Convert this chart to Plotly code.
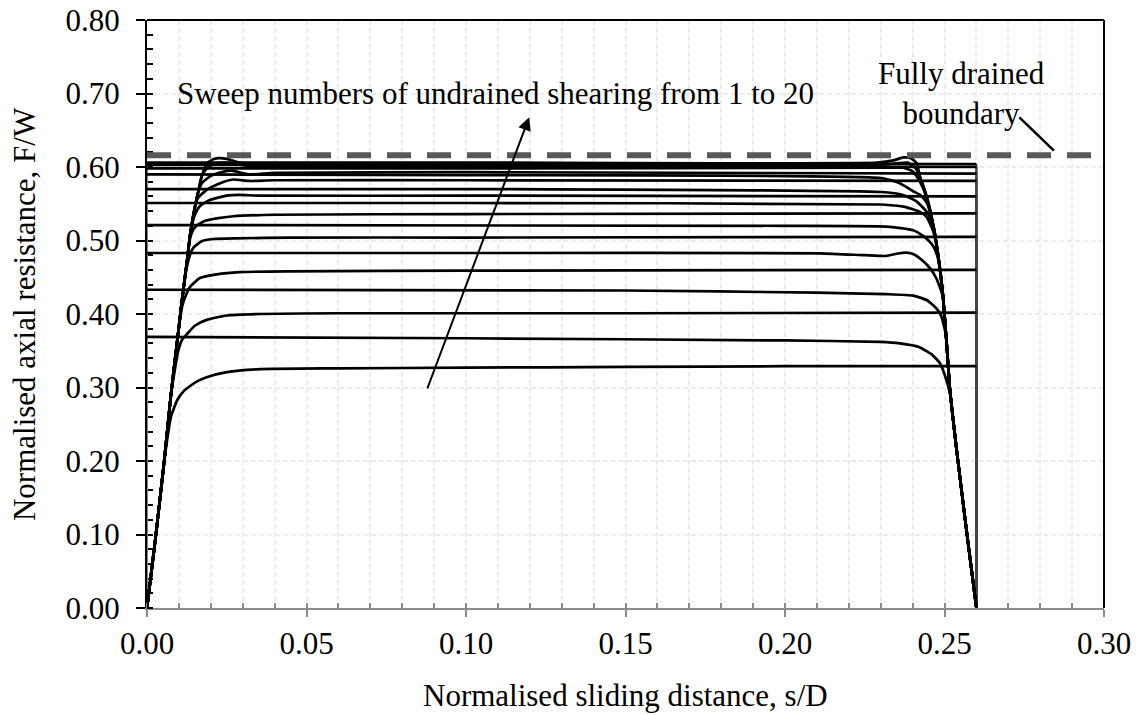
import plotly.graph_objects as go

# ---------------- data ----------------
# Forward sweeps (odd sweep numbers): start at s/D = 0
s01_x = [0, 0.0028, 0.0054, 0.0075, 0.0095, 0.0115, 0.0135, 0.0160, 0.0187, 0.0250, 0.0354, 0.0600, 0.1000, 0.1500, 0.2000, 0.2600]
s01_y = [0, 0.100, 0.200, 0.260, 0.283, 0.295, 0.302, 0.309, 0.314, 0.321, 0.325, 0.326, 0.327, 0.328, 0.329, 0.329]
s03_x = [0, 0.0028, 0.0054, 0.0075, 0.0098, 0.0110, 0.0124, 0.0150, 0.0187, 0.0250, 0.0354, 0.0600, 0.1500, 0.2600]
s03_y = [0, 0.100, 0.200, 0.290, 0.350, 0.365, 0.372, 0.384, 0.392, 0.398, 0.400, 0.401, 0.401, 0.402]
s05_x = [0, 0.0028, 0.0054, 0.0075, 0.0098, 0.0110, 0.0124, 0.0135, 0.0166, 0.0218, 0.0290, 0.0450, 0.1000, 0.2600]
s05_y = [0, 0.100, 0.200, 0.290, 0.375, 0.410, 0.428, 0.437, 0.449, 0.454, 0.457, 0.458, 0.459, 0.460]
s07_x = [0, 0.0028, 0.0054, 0.0075, 0.0098, 0.0110, 0.0124, 0.0136, 0.0145, 0.0171, 0.0208, 0.0280, 0.0450, 0.1000, 0.2600]
s07_y = [0, 0.100, 0.200, 0.290, 0.375, 0.420, 0.462, 0.482, 0.490, 0.499, 0.502, 0.503, 0.504, 0.504, 0.505]
s09_x = [0, 0.0028, 0.0054, 0.0075, 0.0098, 0.0110, 0.0124, 0.0136, 0.0150, 0.0177, 0.0218, 0.0270, 0.0400, 0.1000, 0.2600]
s09_y = [0, 0.100, 0.200, 0.290, 0.375, 0.420, 0.467, 0.505, 0.518, 0.526, 0.530, 0.533, 0.535, 0.536, 0.537]
s11_x = [0, 0.0028, 0.0054, 0.0075, 0.0098, 0.0110, 0.0124, 0.0136, 0.0150, 0.0166, 0.0197, 0.0250, 0.0290, 0.0350, 0.1000, 0.2600]
s11_y = [0, 0.100, 0.200, 0.290, 0.375, 0.420, 0.467, 0.510, 0.535, 0.547, 0.555, 0.561, 0.562, 0.561, 0.561, 0.560]
s13_x = [0, 0.0028, 0.0054, 0.0075, 0.0098, 0.0110, 0.0124, 0.0136, 0.0150, 0.0160, 0.0187, 0.0229, 0.0270, 0.0320, 0.0400, 0.1000, 0.2600]
s13_y = [0, 0.100, 0.200, 0.290, 0.375, 0.420, 0.467, 0.510, 0.545, 0.558, 0.569, 0.578, 0.583, 0.581, 0.582, 0.582, 0.581]
s15_x = [0, 0.0028, 0.0054, 0.0075, 0.0098, 0.0110, 0.0124, 0.0136, 0.0150, 0.0160, 0.0172, 0.0200, 0.0235, 0.0265, 0.0320, 0.0400, 0.1000, 0.2600]
s15_y = [0, 0.100, 0.200, 0.290, 0.375, 0.420, 0.467, 0.510, 0.545, 0.565, 0.578, 0.588, 0.593, 0.595, 0.590, 0.592, 0.593, 0.591]
s17_x = [0, 0.0028, 0.0054, 0.0075, 0.0098, 0.0110, 0.0124, 0.0136, 0.0150, 0.0160, 0.0172, 0.0187, 0.0210, 0.0240, 0.0275, 0.0330, 0.1000, 0.2600]
s17_y = [0, 0.100, 0.200, 0.290, 0.375, 0.420, 0.467, 0.510, 0.545, 0.565, 0.588, 0.598, 0.604, 0.606, 0.604, 0.601, 0.601, 0.600]
s19_x = [0, 0.0028, 0.0054, 0.0075, 0.0098, 0.0110, 0.0124, 0.0136, 0.0150, 0.0160, 0.0172, 0.0187, 0.0205, 0.0224, 0.0250, 0.0290, 0.0350, 0.1000, 0.2600]
s19_y = [0, 0.100, 0.200, 0.290, 0.375, 0.420, 0.467, 0.510, 0.545, 0.565, 0.588, 0.604, 0.610, 0.612, 0.611, 0.606, 0.604, 0.605, 0.604]

# Reverse sweeps (even sweep numbers): start at s/D = 0.26
s02_x = [0.2600, 0.2570, 0.2538, 0.2518, 0.2500, 0.2486, 0.2460, 0.2420, 0.2360, 0.2298, 0.2000, 0.1000, 0]
s02_y = [0, 0.102, 0.215, 0.290, 0.318, 0.333, 0.345, 0.355, 0.360, 0.362, 0.364, 0.367, 0.369]
s04_x = [0.2600, 0.2570, 0.2538, 0.2517, 0.2505, 0.2490, 0.2476, 0.2444, 0.2402, 0.2318, 0.2100, 0.1500, 0]
s04_y = [0, 0.102, 0.215, 0.297, 0.370, 0.397, 0.407, 0.419, 0.425, 0.427, 0.429, 0.432, 0.433]
s06_x = [0.2600, 0.2570, 0.2538, 0.2517, 0.2505, 0.2494, 0.2475, 0.2455, 0.2430, 0.2405, 0.2381, 0.2350, 0.2318, 0.2250, 0.2110, 0.1000, 0]
s06_y = [0, 0.102, 0.215, 0.297, 0.370, 0.425, 0.448, 0.462, 0.473, 0.481, 0.4835, 0.482, 0.479, 0.480, 0.4826, 0.483, 0.483]
s08_x = [0.2600, 0.2570, 0.2538, 0.2517, 0.2505, 0.2494, 0.2480, 0.2465, 0.2450, 0.2434, 0.2402, 0.2318, 0.2000, 0]
s08_y = [0, 0.102, 0.215, 0.297, 0.370, 0.430, 0.475, 0.492, 0.500, 0.506, 0.514, 0.519, 0.520, 0.521]
s10_x = [0.2600, 0.2570, 0.2538, 0.2517, 0.2505, 0.2494, 0.2480, 0.2465, 0.2444, 0.2423, 0.2371, 0.2300, 0.1000, 0]
s10_y = [0, 0.102, 0.215, 0.297, 0.370, 0.430, 0.480, 0.512, 0.532, 0.539, 0.546, 0.549, 0.551, 0.551]
s12_x = [0.2600, 0.2570, 0.2538, 0.2517, 0.2505, 0.2494, 0.2480, 0.2465, 0.2444, 0.2413, 0.2370, 0.2300, 0.1000, 0]
s12_y = [0, 0.102, 0.215, 0.297, 0.370, 0.430, 0.480, 0.520, 0.539, 0.553, 0.562, 0.566, 0.570, 0.570]
s14_x = [0.2600, 0.2570, 0.2538, 0.2517, 0.2505, 0.2494, 0.2480, 0.2465, 0.2444, 0.2423, 0.2402, 0.2360, 0.2300, 0.1000, 0]
s14_y = [0, 0.102, 0.215, 0.297, 0.370, 0.430, 0.480, 0.520, 0.552, 0.562, 0.567, 0.578, 0.585, 0.589, 0.590]
s16_x = [0.2600, 0.2570, 0.2538, 0.2517, 0.2505, 0.2494, 0.2480, 0.2465, 0.2444, 0.2423, 0.2400, 0.2370, 0.2320, 0.1000, 0]
s16_y = [0, 0.102, 0.215, 0.297, 0.370, 0.430, 0.480, 0.520, 0.558, 0.580, 0.594, 0.599, 0.599, 0.598, 0.598]
s18_x = [0.2600, 0.2570, 0.2538, 0.2517, 0.2505, 0.2494, 0.2480, 0.2465, 0.2444, 0.2423, 0.2410, 0.2385, 0.2350, 0.2300, 0.1000, 0]
s18_y = [0, 0.102, 0.215, 0.297, 0.370, 0.430, 0.480, 0.520, 0.560, 0.586, 0.598, 0.606, 0.605, 0.603, 0.603, 0.603]
s20_x = [0.2600, 0.2570, 0.2538, 0.2517, 0.2505, 0.2494, 0.2480, 0.2465, 0.2444, 0.2423, 0.2413, 0.2395, 0.2371, 0.2340, 0.2290, 0.1000, 0]
s20_y = [0, 0.102, 0.215, 0.297, 0.370, 0.430, 0.480, 0.520, 0.560, 0.587, 0.605, 0.612, 0.613, 0.609, 0.606, 0.606, 0.606]

drained_level = 0.616
drained_x = [0.0, 0.30]

x_ticks = [0.00, 0.05, 0.10, 0.15, 0.20, 0.25, 0.30]
y_ticks = [0.00, 0.10, 0.20, 0.30, 0.40, 0.50, 0.60, 0.70, 0.80]

sweeps = [
    (s01_x, s01_y), (s02_x, s02_y), (s03_x, s03_y), (s04_x, s04_y),
    (s05_x, s05_y), (s06_x, s06_y), (s07_x, s07_y), (s08_x, s08_y),
    (s09_x, s09_y), (s10_x, s10_y), (s11_x, s11_y), (s12_x, s12_y),
    (s13_x, s13_y), (s14_x, s14_y), (s15_x, s15_y), (s16_x, s16_y),
    (s17_x, s17_y), (s18_x, s18_y), (s19_x, s19_y), (s20_x, s20_y),
]

FONT = "Liberation Serif, Times New Roman, serif"
FS = 31
fig = go.Figure()

# vertical drop at the end of each sweep (reversal)
for i, (sx, sy) in enumerate(sweeps):
    col = "#454545" if i % 2 == 0 else "#6d8e90"
    fig.add_trace(go.Scatter(x=[sx[-1], sx[-1]], y=[sy[-1], 0], mode="lines",
                             line=dict(color=col, width=2), hoverinfo="skip"))

for i, (sx, sy) in enumerate(sweeps):
    fig.add_trace(go.Scatter(x=sx, y=sy, mode="lines", name=f"Sweep {i+1}",
                             line=dict(color="black", width=2.7, shape="spline", smoothing=0.5)))

fig.add_trace(go.Scatter(x=drained_x, y=[drained_level, drained_level], mode="lines",
                         line=dict(color="#595959", width=6, dash="24px,16px"),
                         name="Fully drained boundary"))

grid = "#ebebeb"
fig.update_xaxes(range=[0, 0.30], tickvals=x_ticks, tickformat=".2f", automargin=False,
                 showline=True, linecolor="#8c8c8c", linewidth=2,
                 ticks="outside", ticklen=7, tickwidth=2, tickcolor="#8c8c8c",
                 showgrid=True, gridcolor=grid, griddash="5px,3px", gridwidth=1.5,
                 minor=dict(dtick=0.01, ticks="inside", ticklen=5, tickwidth=1.5, tickcolor="#8c8c8c",
                            showgrid=True, gridcolor=grid, griddash="5px,3px", gridwidth=1.5),
                 zeroline=False, layer="below traces", ticklabelstandoff=0,
                 tickfont=dict(family=FONT, size=FS, color="black"))
fig.update_yaxes(range=[0, 0.80], tickvals=y_ticks, tickformat=".2f", automargin=False,
                 showline=True, linecolor="black", linewidth=2,
                 ticks="outside", ticklen=9, tickwidth=2, tickcolor="black",
                 showgrid=True, gridcolor=grid, griddash="5px,3px", gridwidth=1.5,
                 minor=dict(dtick=0.02, ticks="inside", ticklen=6, tickwidth=1.5, tickcolor="black",
                            showgrid=False),
                 zeroline=False, layer="below traces", ticklabelstandoff=10,
                 tickfont=dict(family=FONT, size=FS, color="black"))

fig.update_layout(
    width=1139, height=715,
    margin=dict(l=147, r=35, t=20, b=107, autoexpand=False),
    plot_bgcolor="white", paper_bgcolor="white",
    showlegend=False,
    font=dict(family=FONT, size=FS, color="black"),
    shapes=[
        dict(type="line", xref="paper", yref="paper", x0=0, x1=1, y0=1, y1=1,
             line=dict(color="black", width=2)),
        dict(type="line", xref="paper", yref="paper", x0=1, x1=1, y0=0, y1=1,
             line=dict(color="black", width=2)),
    ],
    annotations=[
        dict(text="Normalised sliding distance, s/D", xref="paper", yref="paper",
             x=0.5, y=-0.148, xanchor="center", yanchor="middle", showarrow=False,
             font=dict(family=FONT, size=FS)),
        dict(text="Normalised axial resistance, F/W", xref="paper", yref="paper",
             x=-0.1285, y=0.5, xanchor="center", yanchor="middle", textangle=-90,
             showarrow=False, font=dict(family=FONT, size=FS)),
        dict(text="Sweep numbers of undrained shearing from 1 to 20", xref="x", yref="y",
             x=0.0088, y=0.700, xanchor="left", yanchor="middle", showarrow=False,
             font=dict(family=FONT, size=FS)),
        dict(text="Fully drained<br>boundary", xref="x", yref="y",
             x=0.2552, y=0.700, xanchor="center", yanchor="middle", showarrow=False,
             font=dict(family=FONT, size=FS)),
        dict(text="", xref="x", yref="y", axref="x", ayref="y",
             x=0.1198, y=0.6676, ax=0.0877, ay=0.2966,
             showarrow=True, arrowhead=2, arrowsize=1.3, arrowwidth=2, arrowcolor="black"),
        dict(text="", xref="x", yref="y", axref="x", ayref="y",
             x=0.2843, y=0.6222, ax=0.2730, ay=0.6694,
             showarrow=True, arrowhead=0, arrowwidth=2.5, arrowcolor="black"),
    ],
)

fig.write_html("out.html", config={"displayModeBar": False},
               post_script="document.body.style.margin='0px';")
